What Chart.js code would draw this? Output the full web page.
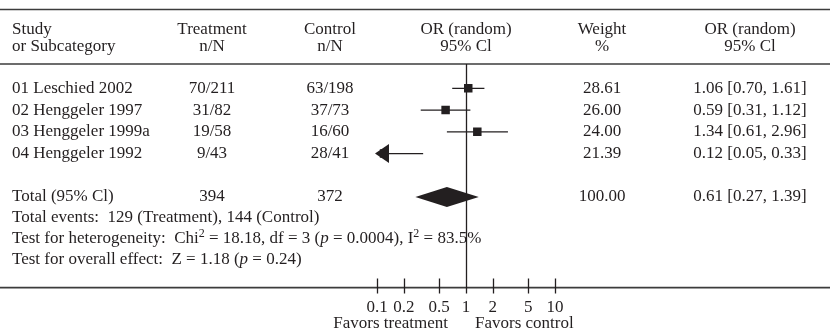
<!DOCTYPE html>
<html>
<head>
<meta charset="utf-8">
<script src="https://cdn.jsdelivr.net/npm/chart.js@4.4.0/dist/chart.umd.min.js"></script>
<style>
html, body { margin: 0; padding: 0; background: #fff; }
#wrap { width: 830px; height: 334px; position: relative; }
</style>
</head>
<body>
<div id="wrap"><canvas id="forest"></canvas></div>
<script>
var studies = ["01 Leschied 2002", "02 Henggeler 1997", "03 Henggeler 1999a", "04 Henggeler 1992"];
var treatment = ["70/211", "31/82", "19/58", "9/43"];
var control = ["63/198", "37/73", "16/60", "28/41"];
var orValue = [1.06, 0.59, 1.34, 0.12];
var ciLow = [0.70, 0.31, 0.61, 0.05];
var ciHigh = [1.61, 1.12, 2.96, 0.33];
var weight = ["28.61", "26.00", "24.00", "21.39"];
var total = { label: "Total (95% Cl)", treatment: "394", control: "372", or: 0.61, low: 0.27, high: 1.39, weight: "100.00" };
var xTicks = [0.1, 0.2, 0.5, 1, 2, 5, 10];
var TOTAL_ROW = 5;

var FAMILY = '"Liberation Serif", "DejaVu Serif", serif';
var SIZE = 17;
var FONT = SIZE + "px " + FAMILY;
var INK = "#231f20";
var RULE = "#3c3c3c";

// column centres for the table part
var COL = { study: 12, treat: 212, ctrl: 330, weight: 602, orText: 750 };

function fmtCI(o, l, h) {
    return o.toFixed(2) + " [" + l.toFixed(2) + ", " + h.toFixed(2) + "]";
}

// draws a line of text made of runs: [text, "sup"|"it"|undefined]
function drawRuns(ctx, x, y, runs) {
    ctx.textAlign = "left";
    runs.forEach(function (r) {
        if (r[1] === "sup") {
            ctx.font = "12px " + FAMILY;
            ctx.fillText(r[0], x, y - 5);
        } else if (r[1] === "it") {
            ctx.font = "italic " + FONT;
            ctx.fillText(r[0], x, y);
        } else {
            ctx.font = FONT;
            ctx.fillText(r[0], x, y);
        }
        x += ctx.measureText(r[0]).width;
    });
    ctx.font = FONT;
}

function text(ctx, s, x, y, align) {
    ctx.textAlign = align || "center";
    ctx.fillText(s, x, y);
}

var forestPlugin = {
    id: "forest",
    beforeDatasetsDraw: function (chart) {
        var ctx = chart.ctx;
        var xs = chart.scales.x, ys = chart.scales.y;
        var area = chart.chartArea;
        var W = chart.width;
        ctx.save();

        // rules
        ctx.strokeStyle = RULE;
        ctx.lineWidth = 1.6;
        ctx.beginPath();
        ctx.moveTo(0, 9.5); ctx.lineTo(W, 9.5);
        ctx.moveTo(0, area.top); ctx.lineTo(W, area.top);
        ctx.moveTo(0, area.bottom); ctx.lineTo(W, area.bottom);
        ctx.stroke();

        // tick marks and line of no effect
        ctx.strokeStyle = INK;
        ctx.lineWidth = 1.3;
        ctx.beginPath();
        xTicks.forEach(function (v) {
            var px = Math.round(xs.getPixelForValue(v)) + 0.5;
            ctx.moveTo(px, area.bottom - 9);
            ctx.lineTo(px, area.bottom + 6);
        });
        var one = Math.round(xs.getPixelForValue(1)) + 0.5;
        ctx.moveTo(one, area.top);
        ctx.lineTo(one, area.bottom + 6);
        ctx.stroke();

        // confidence intervals
        ctx.lineWidth = 1.4;
        for (var i = 0; i < orValue.length; i++) {
            var y = ys.getPixelForValue(i);
            var lo = Math.max(ciLow[i], xs.min), hi = Math.min(ciHigh[i], xs.max);
            var x1 = xs.getPixelForValue(lo), x2 = xs.getPixelForValue(hi);
            ctx.beginPath();
            if (ciLow[i] < xs.min) {
                ctx.moveTo(x1 + 12, y);
            } else {
                ctx.moveTo(x1, y);
            }
            ctx.lineTo(x2, y);
            ctx.stroke();
        }
        ctx.restore();
    },
    afterDatasetsDraw: function (chart) {
        var ctx = chart.ctx;
        var xs = chart.scales.x, ys = chart.scales.y;
        var area = chart.chartArea;
        ctx.save();
        ctx.fillStyle = INK;

        // arrows for intervals running off the left of the axis
        for (var i = 0; i < orValue.length; i++) {
            if (ciLow[i] < xs.min) {
                var y = ys.getPixelForValue(i);
                var tip = xs.getPixelForValue(xs.min) - 2;
                ctx.beginPath();
                ctx.moveTo(tip, y);
                ctx.lineTo(tip + 14, y - 9.5);
                ctx.lineTo(tip + 14, y + 9.5);
                ctx.closePath();
                ctx.fill();
            }
        }

        // pooled diamond
        var ty = ys.getPixelForValue(TOTAL_ROW);
        ctx.beginPath();
        ctx.moveTo(xs.getPixelForValue(total.low), ty);
        ctx.lineTo(xs.getPixelForValue(total.or), ty - 10);
        ctx.lineTo(xs.getPixelForValue(total.high), ty);
        ctx.lineTo(xs.getPixelForValue(total.or), ty + 10);
        ctx.closePath();
        ctx.fill();

        // table text
        ctx.font = FONT;
        ctx.textBaseline = "middle";
        var mid = xs.getPixelForValue(1);
        text(ctx, "Study", COL.study, 30, "left");
        text(ctx, "or Subcategory", COL.study, 47, "left");
        text(ctx, "Treatment", COL.treat, 30);
        text(ctx, "n/N", COL.treat, 47);
        text(ctx, "Control", COL.ctrl, 30);
        text(ctx, "n/N", COL.ctrl, 47);
        text(ctx, "OR (random)", mid, 30);
        text(ctx, "95% Cl", mid, 47);
        text(ctx, "Weight", COL.weight, 30);
        text(ctx, "%", COL.weight, 47);
        text(ctx, "OR (random)", COL.orText, 30);
        text(ctx, "95% Cl", COL.orText, 47);

        for (var j = 0; j < studies.length; j++) {
            var ry = ys.getPixelForValue(j);
            text(ctx, studies[j], COL.study, ry, "left");
            text(ctx, treatment[j], COL.treat, ry);
            text(ctx, control[j], COL.ctrl, ry);
            text(ctx, weight[j], COL.weight, ry);
            text(ctx, fmtCI(orValue[j], ciLow[j], ciHigh[j]), COL.orText, ry);
        }
        var tty = ty - 1;
        text(ctx, total.label, COL.study, tty, "left");
        text(ctx, total.treatment, COL.treat, tty);
        text(ctx, total.control, COL.ctrl, tty);
        text(ctx, total.weight, COL.weight, tty);
        text(ctx, fmtCI(total.or, total.low, total.high), COL.orText, tty);

        drawRuns(ctx, COL.study, 218, [["Total events:  129 (Treatment), 144 (Control)"]]);
        drawRuns(ctx, COL.study, 239, [["Test for heterogeneity:  Chi"], ["2", "sup"], [" = 18.18, df = 3 ("], ["p", "it"], [" = 0.0004), I"], ["2", "sup"], [" = 83.5%"]]);
        drawRuns(ctx, COL.study, 260, [["Test for overall effect:  Z = 1.18 ("], ["p", "it"], [" = 0.24)"]]);

        text(ctx, "Favors treatment", mid - 18, area.bottom + 36, "right");
        text(ctx, "Favors control", mid + 9, area.bottom + 36, "left");
        ctx.restore();
    }
};

new Chart(document.getElementById("forest"), {
    type: "scatter",
    data: {
        datasets: [{
            label: "OR",
            data: orValue.map(function (v, i) { return { x: v, y: i }; }),
            pointStyle: "rect",
            pointRadius: 6,
            backgroundColor: INK,
            borderWidth: 0
        }]
    },
    options: {
        responsive: true,
        maintainAspectRatio: false,
        animation: false,
        events: [],
        layout: { padding: { left: 377, right: 275, top: 64, bottom: 6 } },
        plugins: { legend: { display: false }, tooltip: { enabled: false } },
        scales: {
            x: {
                type: "logarithmic",
                min: 0.1,
                max: 10,
                afterBuildTicks: function (scale) {
                    scale.ticks = xTicks.map(function (v) { return { value: v }; });
                },
                grid: { display: false, drawTicks: false },
                border: { display: false },
                ticks: {
                    color: INK,
                    font: { family: FAMILY, size: SIZE },
                    padding: 10,
                    autoSkip: false,
                    maxRotation: 0,
                    callback: function (v) { return String(v); }
                }
            },
            y: {
                type: "linear",
                display: false,
                reverse: true,
                min: -1.12,
                max: 9.16
            }
        }
    },
    plugins: [forestPlugin]
});
</script>
</body>
</html>
